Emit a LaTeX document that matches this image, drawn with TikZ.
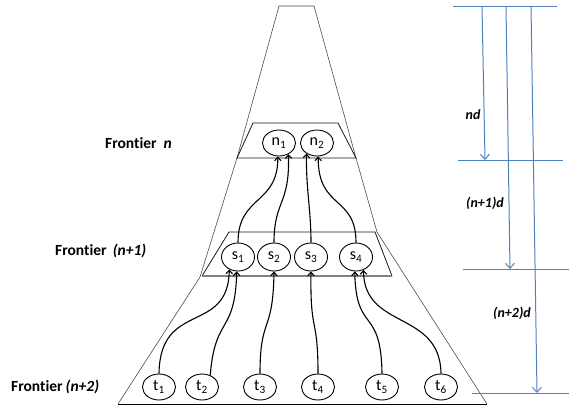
\documentclass[tikz,border=0pt]{standalone}
\usepackage{fontspec}
\setmainfont{Carlito}[Ligatures=NoCommon]
\usetikzlibrary{arrows.meta,shapes.geometric}
\definecolor{dimblue}{RGB}{79,129,189}
\begin{document}
\begin{tikzpicture}[x=1pt,y=-1pt,
  el/.style={draw,ellipse,line width=0.9pt,minimum width=33pt,minimum height=26pt,inner sep=0pt,font=\fontsize{16}{16}\selectfont},
  link/.style={line width=1.1pt,-{Straight Barb[length=3.5pt,width=6.5pt]}},
  outl/.style={draw=black!70,line width=0.6pt},
  front/.style={draw=black!90,line width=0.8pt},
  lab/.style={font=\fontsize{15.5}{16}\selectfont\bfseries,anchor=west,inner sep=0pt},
  dimline/.style={dimblue,line width=1pt},
  dimarr/.style={dimblue,line width=1pt,-{Straight Barb[length=5pt,width=9pt]}},
  dimlab/.style={font=\fontsize{14}{14}\selectfont\bfseries\itshape,inner sep=0pt}]
\useasboundingbox (0,0) rectangle (569,407);

% outlines
\draw[outl] (237,158) -- (279,6) -- (314,6) -- (356,158);
\draw[outl] (237,158) -- (200,277) -- (118,404);
\draw[outl] (356,158) -- (377,232) -- (487,404);
\draw[black,line width=0.9pt] (118,404) -- (487,404);
% frontier n
\draw[front] (237,158) -- (253,123) -- (338,123) -- (356,158) -- cycle;
% frontier n+1
\draw[front] (202,276) -- (229,232) -- (375,232) -- (392,276);
\draw[black!50,line width=1.5pt] (202,276) -- (392,276);

% labels
\node[lab] (fn) at (105,143) {Frontier\hspace{0.45em}\textit{n}};
\node[lab] (fn1) at (55,251) {Frontier\hspace{0.4em}\textit{(n+1)}};
\node[lab] (fn2) at (11,387) {Frontier\hspace{0.2em}\textit{(n+2)}};

% nodes
\node[el] (n1) at (279,143) {n\textsubscript{1}};
\node[el] (n2) at (317,143) {n\textsubscript{2}};
\node[el,minimum height=28pt] (s1) at (238,257) {s\textsubscript{1}};
\node[el,minimum height=28pt] (s2) at (274,257) {s\textsubscript{2}};
\node[el,minimum height=28pt] (s3) at (311,257) {s\textsubscript{3}};
\node[el,minimum height=28pt] (s4) at (356,257) {s\textsubscript{4}};
\node[el] (t1) at (159,387) {t\textsubscript{1}};
\node[el] (t2) at (202,387) {t\textsubscript{2}};
\node[el] (t3) at (260,387) {t\textsubscript{3}};
\node[el] (t4) at (318,387) {t\textsubscript{4}};
\node[el] (t5) at (382,387) {t\textsubscript{5}};
\node[el] (t6) at (441,387) {t\textsubscript{6}};

% connectors t -> s
\draw[link] (t1.north) .. controls (160,300) and (228,335) .. (s1.235);
\draw[link] (t2.55) .. controls (215,315) and (235,335) .. (s1.265);
\draw[link] (t3.north) .. controls (260,315) and (273,335) .. (s2.south);
\draw[link] (t4.north) .. controls (318,315) and (310,335) .. (s3.south);
\draw[link] (t5.north) .. controls (381,305) and (356,335) .. (s4.265);
\draw[link] (t6.north) .. controls (440,310) and (364,330) .. (s4.300);

% connectors s -> n
\draw[link] (s1.north) .. controls (238,195) and (278,205) .. (n1.265);
\draw[link] (s2.north) .. controls (274,200) and (290,205) .. (n1.310);
\draw[link] (s3.north) .. controls (311,210) and (306,190) .. (n2.225);
\draw[link] (s4.north) .. controls (356,195) and (318,210) .. (n2.275);

% dimension lines
\coordinate (h0a) at (453,6);   \coordinate (h0b) at (557,6);
\coordinate (h1a) at (458,160); \coordinate (h1b) at (563,160);
\coordinate (h2a) at (463,269); \coordinate (h2b) at (569,269);
\coordinate (h3a) at (472,393); \coordinate (h3b) at (569,393);
\draw[dimline] (h0a) -- (h0b);
\draw[dimline] (h1a) -- (h1b);
\draw[dimline] (h2a) -- (h2b);
\draw[dimline] (h3a) -- (h3b);
\coordinate (a1s) at (482,6);  \coordinate (a1e) at (485,160);
\coordinate (a2s) at (506,6);  \coordinate (a2e) at (510,269);
\coordinate (a3s) at (531,6);  \coordinate (a3e) at (537,393);
\draw[dimarr] (a1s) -- (a1e);
\draw[dimarr] (a2s) -- (a2e);
\draw[dimarr] (a3s) -- (a3e);
\node[dimlab] (d1) at (473,115) {nd};
\node[dimlab] (d2) at (485,203) {(n+1)d};
\node[dimlab] (d3) at (512,313) {(n+2)d};
\end{tikzpicture}
\end{document}
